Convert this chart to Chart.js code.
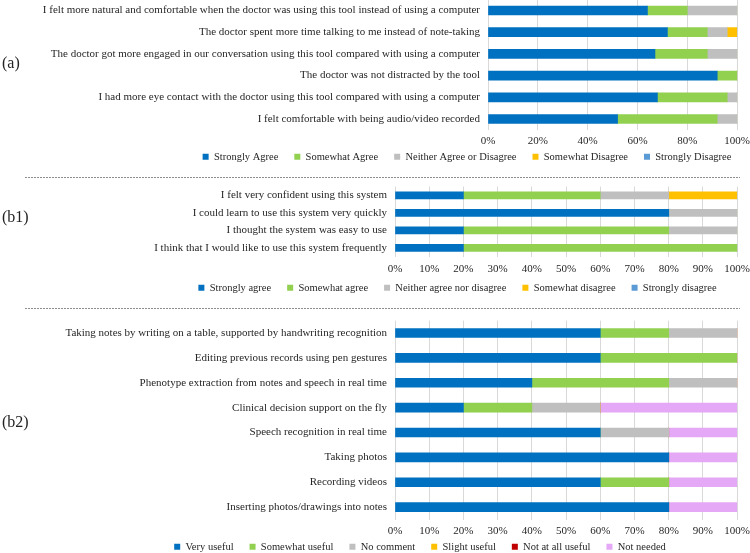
<!DOCTYPE html>
<html>
<head>
<meta charset="utf-8">
<script src="https://cdn.jsdelivr.net/npm/chart.js@4/dist/chart.umd.min.js"></script>
<style>
  html, body { margin: 0; background: #fff; overflow: hidden; font-family: "Liberation Serif", serif; }
  .panel { position: absolute; left: 0; width: 750px; }
  .tag { position: absolute; left: 2px; font-size: 16px; line-height: 18px; color: #222; }
  .dash { position: absolute; left: 25px; width: 715px; height: 1px;
          background: repeating-linear-gradient(to right, #8c8c8c 0 2px, transparent 2px 3px); }
</style>
</head>
<body>
<div class="panel" style="top:-7px;height:179px"><canvas id="ca"></canvas></div>
<div class="dash" style="top:177px"></div>
<div class="panel" style="top:180px;height:123px"><canvas id="cb1"></canvas></div>
<div class="dash" style="top:308px"></div>
<div class="panel" style="top:314px;height:248px"><canvas id="cb2"></canvas></div>
<div class="tag" style="top:54px">(a)</div>
<div class="tag" style="top:208px">(b1)</div>
<div class="tag" style="top:413px">(b2)</div>
<script>
// panel (a)
var aCategories = [
  "I felt more natural and comfortable when the doctor was using this tool instead of using a computer",
  "The doctor spent more time talking to me instead of note-taking",
  "The doctor got more engaged in our conversation using this tool compared with using a computer",
  "The doctor was not distracted by the tool",
  "I had more eye contact with the doctor using this tool compared with using a computer",
  "I felt comfortable with being audio/video recorded"
];
var aSeries = ["Strongly Agree", "Somewhat Agree", "Neither Agree or Disagree", "Somewhat Disagree", "Strongly Disagree"];
var aStronglyAgree    = [64, 72, 67, 92, 68, 52];
var aSomewhatAgree    = [16, 16, 21, 8, 28, 40];
var aNeither          = [20, 8, 12, 0, 4, 8];
var aSomewhatDisagree = [0, 4, 0, 0, 0, 0];
var aStronglyDisagree = [0, 0, 0, 0, 0, 0];
var aTicks = [0, 20, 40, 60, 80, 100];

// panel (b1)
var b1Categories = [
  "I felt very confident using this system",
  "I could learn to use this system very quickly",
  "I thought the system was easy to use",
  "I think that I would like to use this system frequently"
];
var b1Series = ["Strongly agree", "Somewhat agree", "Neither agree nor disagree", "Somewhat disagree", "Strongly disagree"];
var b1StronglyAgree    = [20, 80, 20, 20];
var b1SomewhatAgree    = [40, 0, 60, 80];
var b1Neither          = [20, 20, 20, 0];
var b1SomewhatDisagree = [20, 0, 0, 0];
var b1StronglyDisagree = [0, 0, 0, 0];
var bTicks = [0, 10, 20, 30, 40, 50, 60, 70, 80, 90, 100];

// panel (b2)
var b2Categories = [
  "Taking notes by writing on a table, supported by handwriting recognition",
  "Editing previous records using pen gestures",
  "Phenotype extraction from notes and speech in real time",
  "Clinical decision support on the fly",
  "Speech recognition in real time",
  "Taking photos",
  "Recording videos",
  "Inserting photos/drawings into notes"
];
var b2Series = ["Very useful", "Somewhat useful", "No comment", "Slight useful", "Not at all useful", "Not needed"];
var b2VeryUseful     = [60, 60, 40, 20, 60, 80, 60, 80];
var b2SomewhatUseful = [20, 40, 40, 20, 0, 0, 20, 0];
var b2NoComment      = [20, 0, 20, 20, 20, 0, 0, 0];
var b2SlightUseful   = [0, 0, 0, 0, 0, 0, 0, 0];
var b2NotAtAll       = [0, 0, 0, 0, 0, 0, 0, 0];
var b2NotNeeded      = [0, 0, 0, 40, 20, 20, 20, 20];

var colors = {
  blue: '#0070C0',
  green: '#92D050',
  grey: '#BFBFBF',
  orange: '#FFC000',
  lightBlue: '#5B9BD5',
  red: '#C00000',
  pink: '#E4A8F6'
};
var txt = '#262626';
var serif = "'Liberation Serif', 'Times New Roman', serif";

// long category labels hang past the left edge of the y scale box, so stop them being clipped
var unclip = {
  id: 'unclip',
  afterLayout: function (chart) {
    chart.scales.y.left = 0;
    chart.scales.x.bottom = chart.height;
  }
};

function sets(names, arrays, cols, thick) {
  return names.map(function (n, i) {
    return { label: n, data: arrays[i], backgroundColor: cols[i], borderWidth: 0, barThickness: thick };
  });
}

function makeChart(id, cats, datasets, ticks, opt) {
  var ctx = document.getElementById(id).getContext('2d');
  return new Chart(ctx, {
    type: 'bar',
    data: { labels: cats, datasets: datasets },
    plugins: [unclip],
    options: {
      indexAxis: 'y',
      responsive: true,
      maintainAspectRatio: false,
      animation: false,
      layout: { padding: { left: opt.padL, right: opt.padR, top: 0, bottom: 0 } },
      scales: {
        x: {
          stacked: true, min: 0, max: 100,
          afterBuildTicks: function (s) { s.ticks = ticks.map(function (v) { return { value: v }; }); },
          afterFit: function (s) { s.height = opt.xh; },
          grid: { color: '#D9D9D9', drawTicks: true, tickLength: opt.tl, tickColor: 'rgba(0,0,0,0)' },
          border: { display: false },
          ticks: { padding: 0, maxRotation: 0, color: txt, font: { family: serif, size: 11 },
                   callback: function (v) { return v + '%'; } }
        },
        y: {
          stacked: true,
          afterFit: function (s) { s.width = opt.yw; },
          grid: { display: false, tickLength: 8 },
          border: { display: false },
          ticks: { autoSkip: false, padding: 0, color: txt, font: { family: serif, size: 11 } }
        }
      },
      plugins: {
        legend: {
          position: 'bottom',
          labels: { boxWidth: 6, boxHeight: 6, padding: 16, color: txt, font: { family: serif, size: 10.5 } }
        },
        tooltip: { enabled: false }
      }
    }
  });
}

makeChart('ca', aCategories,
  sets(aSeries, [aStronglyAgree, aSomewhatAgree, aNeither, aSomewhatDisagree, aStronglyDisagree],
       [colors.blue, colors.green, colors.grey, colors.orange, colors.lightBlue], 9),
  aTicks, { padL: 184, padR: 0, yw: 304, xh: 5.6, tl: 4.5 });

makeChart('cb1', b1Categories,
  sets(b1Series, [b1StronglyAgree, b1SomewhatAgree, b1Neither, b1SomewhatDisagree, b1StronglyDisagree],
       [colors.blue, colors.green, colors.grey, colors.orange, colors.lightBlue], 7),
  bTicks, { padL: 177, padR: 12, yw: 218, xh: 9.9, tl: 5.6 });

makeChart('cb2', b2Categories,
  sets(b2Series, [b2VeryUseful, b2SomewhatUseful, b2NoComment, b2SlightUseful, b2NotAtAll, b2NotNeeded],
       [colors.blue, colors.green, colors.grey, colors.orange, colors.red, colors.pink], 9),
  bTicks, { padL: 102, padR: 12, yw: 293, xh: 6, tl: 5.5 });
</script>
</body>
</html>
